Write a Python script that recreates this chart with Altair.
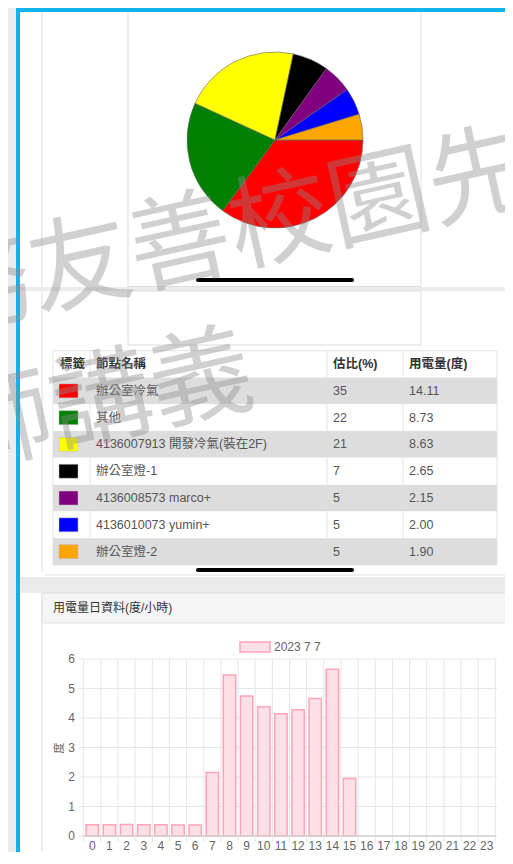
import math
import altair as alt
import pandas as pd

# ---------------- data ----------------
names = ["辦公室冷氣", "其他", "4136007913 開發冷氣(裝在2F)", "辦公室燈-1",
         "4136008573 marco+", "4136010073 yumin+", "辦公室燈-2"]
colors = ["red", "green", "yellow", "black", "purple", "blue", "orange"]
pct = [35, 22, 21, 7, 5, 5, 5]
kwh = [14.11, 8.73, 8.63, 2.65, 2.15, 2.00, 1.90]
header = ["標籤", "節點名稱", "估比(%)", "用電量(度)"]

hours = list(range(24))
usage = [0.38, 0.38, 0.39, 0.38, 0.38, 0.37, 0.37, 2.15, 5.46, 4.75, 4.38, 4.14,
         4.28, 4.66, 5.65, 1.95, 0, 0, 0, 0, 0, 0, 0, 0]
y_ticks = [0, 1, 2, 3, 4, 5, 6]
legend_label = "2023 7 7"
panel_title = "用電量日資料(度/小時)"
y_title = "度"
wm_line1 = "務友善校園先鋒"
wm_line2 = "師講義"

# ---------------- style ----------------
FONT = "'Liberation Sans', 'Noto Sans CJK TC', sans-serif"
CJK = "'Noto Sans CJK TC', sans-serif"
W, H = 497, 844
BG = "#ebebeb"
BLUE = "#12b3ec"
LINE = "#dddddd"
GRID = "#e6e6e6"

one = pd.DataFrame({"k": [0]})


def rect(x, x2, y, y2, **kw):
    return alt.Chart(one).mark_rect(**kw).encode(
        x=alt.value(x), x2=alt.value(x2), y=alt.value(y), y2=alt.value(y2))


def hrule(x, x2, y, color=LINE, w=1, **kw):
    return alt.Chart(one).mark_rule(color=color, strokeWidth=w, **kw).encode(
        x=alt.value(x), x2=alt.value(x2), y=alt.value(y))


def vrule(x, y, y2, color=LINE, w=1, **kw):
    return alt.Chart(one).mark_rule(color=color, strokeWidth=w, **kw).encode(
        x=alt.value(x), y=alt.value(y), y2=alt.value(y2))


def label(text, x, y, **kw):
    return alt.Chart(one).mark_text(text=text, **kw).encode(x=alt.value(x), y=alt.value(y))


color_scale = alt.Scale(domain=names, range=colors)
layers = []

# ---------------- page frame ----------------
layers += [
    rect(12, W, 4, H, color="white"),
    rect(8, 12, 0, H, color=BLUE),
    rect(8, W, 0, 4, color=BLUE),
    *[vrule(x, 4, 279) for x in (34, 120, 413)],
    hrule(120, 413, 278.5),
    rect(12, W, 279, 283, color=BG),
    rect(12, W, 569, 585, color=BG),
    vrule(34, 283, 564), hrule(37, W, 567),
    rect(120, 413, 283, 337, fill="white", stroke=LINE),
]

# ---------------- pie ----------------
pie_df = pd.DataFrame({"name": names, "kwh": kwh, "order": list(range(len(names)))})
layers.append(
    alt.Chart(pie_df).mark_arc(radius=88, stroke="#666666", strokeWidth=0.6).encode(
        theta=alt.Theta("kwh:Q", stack=True,
                        scale=alt.Scale(range=[math.pi / 2, 2.5 * math.pi])),
        color=alt.Color("name:N", scale=color_scale, legend=None),
        order=alt.Order("order:Q", sort="ascending"),
        x=alt.value(267), y=alt.value(132),
    )
)
layers.append(hrule(190, 344, 272, color="black", w=4, strokeCap="round"))

# ---------------- table ----------------
nrows = len(names) + 1
rows_df = pd.DataFrame({"row": list(range(nrows))})
tbl = pd.DataFrame({"name": names, "pct": pct, "kwh": kwh,
                    "row": list(range(1, nrows))})
ys_t = alt.Scale(domain=[0, nrows], range=[342.7, 557])

layers.append(
    alt.Chart(rows_df).transform_calculate(
        r1="datum.row + 1",
        shade="datum.row % 2 == 1 ? '#dddddd' : '#ffffff'",
    ).mark_rect().encode(
        x=alt.value(45), x2=alt.value(489),
        y=alt.Y("row:Q", scale=ys_t, axis=None), y2="r1:Q",
        fill=alt.Fill("shade:N", scale=None),
    )
)
layers += [
    alt.Chart(rows_df).transform_filter("datum.row % 2 == 0")
    .transform_calculate(r1="datum.row + 1")
    .mark_rule(color="#e3e3e3")
    .encode(x=alt.value(xv), y=alt.Y("row:Q", scale=ys_t, axis=None), y2="r1:Q")
    for xv in (82, 319, 395)
]
layers.append(
    alt.Chart(rows_df).transform_aggregate(r0="min(row)", rmax="max(row)")
    .transform_calculate(r1="datum.rmax + 1")
    .mark_rect(fillOpacity=0, stroke="#e3e3e3")
    .encode(x=alt.value(45), x2=alt.value(489),
            y=alt.Y("r0:Q", scale=ys_t, axis=None), y2="r1:Q")
)

hdr_df = pd.DataFrame({"text": header, "row": [0] * len(header)})
colx = [52, 88, 325, 401]
layers += [
    alt.Chart(hdr_df).transform_filter(alt.datum.text == t)
    .transform_calculate(rc="datum.row + 0.5")
    .mark_text(align="left", baseline="middle", fontSize=12.5,
               fontWeight="bold", color="#333333")
    .encode(x=alt.value(cx), y=alt.Y("rc:Q", scale=ys_t, axis=None), text="text:N")
    for t, cx in zip(header, colx)
]
body = alt.Chart(tbl).transform_calculate(
    rc="datum.row + 0.5", s0="datum.row + 0.24", s1="datum.row + 0.76")
layers.append(body.mark_rect(stroke="#bbbbbb", strokeWidth=0.5).encode(
    x=alt.value(51), x2=alt.value(70),
    y=alt.Y("s0:Q", scale=ys_t, axis=None), y2="s1:Q",
    color=alt.Color("name:N", scale=color_scale, legend=None)))
txt = dict(align="left", baseline="middle", fontSize=12.5, color="#555555")
layers += [
    body.mark_text(**txt).encode(
        x=alt.value(88), y=alt.Y("rc:Q", scale=ys_t, axis=None), text="name:N"),
    body.mark_text(**txt).encode(
        x=alt.value(325), y=alt.Y("rc:Q", scale=ys_t, axis=None), text="pct:Q"),
    body.mark_text(**txt).encode(
        x=alt.value(401), y=alt.Y("rc:Q", scale=ys_t, axis=None),
        text=alt.Text("kwh:Q", format=".2f")),
]
layers.append(hrule(190, 344, 562, color="black", w=4, strokeCap="round"))

# ---------------- bar chart panel ----------------
layers += [
    vrule(34, 585, H),
    rect(34, W + 5, 585, 615, fill="#f5f5f5", stroke=LINE, cornerRadius=3),
    label(panel_title, 45, 600, align="left", baseline="middle", fontSize=12,
          color="#333333"),
    rect(232, 262, 634, 644, fill="#ffe0e6", stroke="#ffa3b7", strokeWidth=1.5),
    label(legend_label, 266, 639, align="left", baseline="middle", fontSize=12,
          color="#666666"),
]

bar_df = pd.DataFrame({"hour": hours, "value": usage})
xs = alt.Scale(domain=[-0.5, 23.5], range=[75.7, 487.3])
ysb = alt.Scale(domain=[0, 6], range=[828, 651])
bnd_df = pd.DataFrame({"b": [h - 0.5 for h in hours] + [hours[-1] + 0.5]})
yt_df = pd.DataFrame({"t": y_ticks})

layers += [
    alt.Chart(yt_df).mark_rule(color=GRID).encode(
        y=alt.Y("t:Q", scale=ysb, axis=None), x=alt.value(71), x2=alt.value(489)),
    alt.Chart(bnd_df).mark_rule(color=GRID).encode(
        x=alt.X("b:Q", scale=xs, axis=None), y=alt.value(651), y2=alt.value(834)),
    alt.Chart(bar_df).transform_filter("datum.value > 0").transform_calculate(
        x0="datum.hour - 0.36", x1="datum.hour + 0.36", base="0"
    ).mark_rect(fill="#ffe0e6", stroke="#ffa3b7", strokeWidth=1.5).encode(
        x=alt.X("x0:Q", scale=xs, axis=None), x2="x1:Q",
        y=alt.Y("value:Q", scale=ysb, axis=None), y2="base:Q"),
    alt.Chart(yt_df).transform_filter("datum.t == 0").mark_rule(
        color="#d0d0d0", strokeWidth=1.5).encode(
        y=alt.Y("t:Q", scale=ysb, axis=None), x=alt.value(75.7), x2=alt.value(488)),
    alt.Chart(yt_df).mark_text(align="right", baseline="middle", fontSize=12,
                               color="#666666").encode(
        y=alt.Y("t:Q", scale=ysb, axis=None), x=alt.value(67), text="t:Q"),
    alt.Chart(bar_df).mark_text(align="center", baseline="middle", fontSize=12,
                                color="#666666").encode(
        x=alt.X("hour:Q", scale=xs, axis=None), y=alt.value(838), text="hour:Q"),
    label(y_title, 52, 740, angle=270, align="center", baseline="middle",
          fontSize=11, color="#666666"),
]

# ---------------- watermark ----------------
for text, cx, cy in [(wm_line1, 272, 216), (wm_line2, 94, 396)]:
    layers.append(label(text, cx, cy, font=CJK, fontSize=102, angle=347.5,
                        align="center", baseline="middle", color="#8c8c8c",
                        opacity=0.4))

chart = alt.layer(*layers).resolve_scale(
    x="independent", y="independent"
).properties(
    width=W, height=H, padding=0, autosize=alt.AutoSizeParams(type="none")
).configure(font=FONT, background=BG).configure_view(strokeWidth=0)

chart.save("out.html", embed_options={"renderer": "svg", "actions": False})
